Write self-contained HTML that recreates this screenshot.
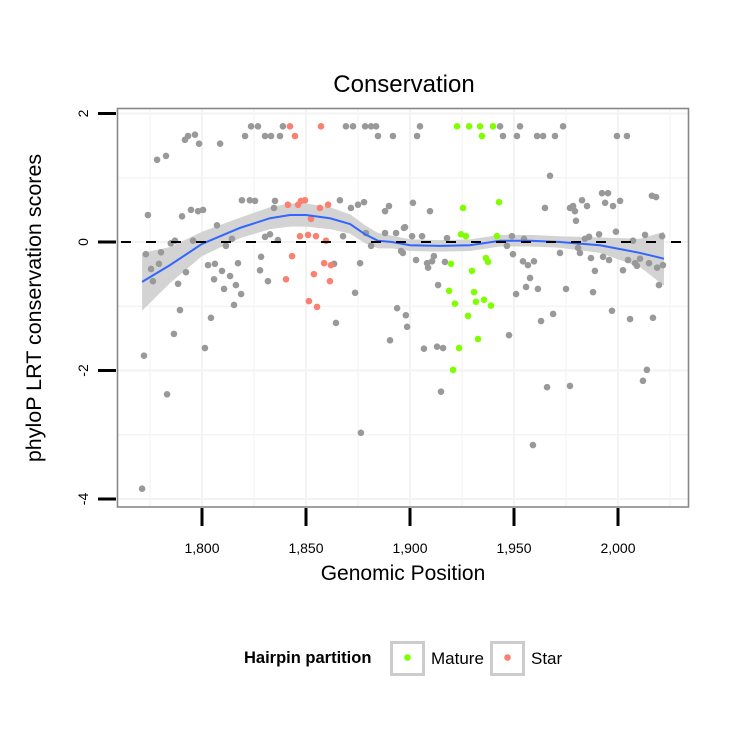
<!DOCTYPE html>
<html><head><meta charset="utf-8"><style>
html,body{margin:0;padding:0;background:#fff;}
svg{display:block;font-family:"Liberation Sans",sans-serif;}
</style></head><body>
<svg id="chart" width="750" height="750" viewBox="0 0 750 750">
<text x="404" y="92" text-anchor="middle" font-size="24" fill="#000">Conservation</text>
<rect x="117.5" y="108.5" width="571" height="398.5" fill="#fff"/>
<g id="grid"></g>
<g id="band"></g>
<g id="points"></g>
<g id="smooth"></g>
<g id="zero"></g>
<rect x="117.5" y="108.5" width="571" height="398.5" fill="none" stroke="#888" stroke-width="1.6"/>
<g id="axes"></g>
<text x="403" y="580" text-anchor="middle" font-size="21">Genomic Position</text>
<text transform="translate(41,308) rotate(-90)" text-anchor="middle" font-size="21.5">phyloP LRT conservation scores</text>
<g>
<text x="244" y="663" font-size="16.5" font-weight="bold">Hairpin partition</text>
<g>
<rect x="391.5" y="642.5" width="32" height="32" fill="#fff" stroke="#ccc" stroke-width="3"/>
<circle cx="407.5" cy="657.5" r="3.3" fill="#7fff00"/>
<text x="431" y="664" font-size="17">Mature</text>
</g>
<g>
<rect x="491.5" y="642.5" width="32" height="32" fill="#fff" stroke="#ccc" stroke-width="3"/>
<circle cx="507.5" cy="657.5" r="3.3" fill="#fa8072"/>
<text x="531" y="664" font-size="17">Star</text>
</g>
</g>
</svg>
<script>
const xTicks=[1800,1850,1900,1950,2000];
const xTickLabels=["1,800","1,850","1,900","1,950","2,000"];
const yTicks=[2,0,-2,-4];
const yTickLabels=["2","0","-2","-4"];
const grayX=[1823.6,1826.9,1838.9,1869.2,1872.6,1878.4,1881.3,1883.7,1904.8,1943.3,1952.9,1973.6,
1820.7,1830.3,1833.2,1837.5,1884.6,1891.8,1903.4,1944.7,1951.4,1961.1,1964,1969.7,1999.5,2004.3,
1778.4,1782.7,1791.8,1793.3,1796.6,1798.6,1808.7,
1967.3,1901.4,1909.6,1964.9,1976.9,1978.4,1979.3,1979.8,1982.7,1985.1,1992.3,1995.2,1993.8,1997.6,2001,2016.3,2018.3,
1819.2,1823,1825.5,1835.1,1794.7,1798.1,1800.5,1774,1790.4,1807.2,1866.3,1871.6,1875,1877.9,1888,1889.9,1834.6,
1785,1787,1795.7,1814.4,1811.5,1830.3,1832.7,1836.5,1867.8,1881.3,1878.8,1888,1893.3,1897.1,1895.7,
1773,1775.5,1779.3,1776.4,1780.3,1788.5,1792.3,1802.9,1806.2,1809.6,1805.8,1813.5,1817.3,1810.6,1816.3,1818.8,1815.4,
1828.4,1827.9,1831.7,1863.5,1876,1873.6,
1789.4,1804.3,1786.5,1801.4,1772.1,1783.2,1864.4,1876.4,1771.2,1893.8,1890.4,1898,1898.6,
1897.6,1901,1905.8,1917.8,1949,1954.8,1984.1,1986.1,1990.9,1999,2007.2,2013,2021.2,
1896.6,1902.9,1908.2,1910.6,1911.5,1908.7,1916.8,1946.6,1949.5,1954.3,1956.7,1959.6,1972.1,1980.8,1981.7,1987,1992.8,1995.7,2002.4,2004.8,2008.2,2010.6,2009.1,2014.9,2018.8,2021.6,1988.9,2019.7,1957.7,1955.8,1961.5,1951,1975,1988,1913.5,
1906.7,1913,1915.9,1914.9,1947.6,1963,1968.8,1997.1,2005.8,2016.8,2013.9,2012,1965.9,1976.9,1959.1];
const grayY=[1.8,1.8,1.8,1.8,1.8,1.8,1.8,1.8,1.8,1.8,1.8,1.8,
1.65,1.65,1.65,1.65,1.65,1.65,1.65,1.65,1.65,1.65,1.65,1.65,1.65,1.65,
1.28,1.34,1.59,1.65,1.67,1.53,1.53,
1.03,0.61,0.48,0.53,0.53,0.56,0.48,0.33,0.65,0.56,0.76,0.76,0.61,0.56,0.64,0.72,0.7,
0.65,0.65,0.64,0.64,0.5,0.48,0.5,0.42,0.4,0.26,0.65,0.53,0.58,0.62,0.48,0.56,0.53,
-0.02,0.02,0.02,0.05,-0.06,0.08,0.12,0.03,0.09,-0.06,0.14,0.14,0.14,0.22,-0.14,
-0.19,-0.42,-0.34,-0.61,-0.16,-0.65,-0.47,-0.36,-0.34,-0.45,-0.58,-0.53,-0.33,-0.73,-0.67,-0.81,-0.98,
-0.23,-0.44,-0.61,-0.34,-0.33,-0.79,
-1.06,-1.18,-1.43,-1.65,-1.77,-2.37,-1.26,-2.97,-3.84,-1.03,-1.53,-1.14,-1.32,
0.23,0.09,0.09,0.06,0.09,0.05,0.05,0.08,0.12,0.16,0.02,0.11,0.09,
-0.17,-0.28,-0.33,-0.3,-0.22,-0.4,-0.31,-0.06,-0.19,-0.3,-0.36,-0.3,-0.17,-0.09,-0.17,-0.25,-0.23,-0.28,-0.44,-0.28,-0.33,-0.26,-0.37,-0.33,-0.4,-0.36,-0.45,-0.67,-0.56,-0.7,-0.73,-0.81,-0.73,-0.78,-0.67,
-1.66,-1.63,-1.65,-2.33,-1.45,-1.23,-1.12,-1.07,-1.2,-1.18,-1.99,-2.16,-2.26,-2.24,-3.16];
const matureX=[1922.6,1928.4,1933.7,1939.9,1934.6,1925.5,1942.8,1924.5,1926.9,1941.8,1919.7,1936.5,1937.5,1929.8,1918.8,1930.8,1921.6,1931.7,1935.6,1938.9,1927.9,1932.7,1923.6,1920.7];
const matureY=[1.8,1.8,1.8,1.8,1.65,0.53,0.62,0.12,0.09,0.09,-0.34,-0.25,-0.31,-0.45,-0.76,-0.78,-0.96,-0.93,-0.9,-0.99,-1.15,-1.51,-1.65,-1.99];
const starX=[1842.3,1857.2,1844.7,1841.3,1846.2,1847.6,1849.5,1856.7,1860.6,1852.4,1847.1,1851,1854.8,1859.6,1843.3,1858.7,1862,1853.8,1840.4,1861.5,1851.4,1855.3];
const starY=[1.8,1.8,1.65,0.58,0.58,0.64,0.65,0.53,0.58,0.36,0.09,0.11,0.09,0.02,-0.22,-0.33,-0.36,-0.5,-0.58,-0.61,-0.92,-1.01];
const smoothX=[1771.2,1784.6,1800,1818.3,1832.7,1842.3,1850,1861.5,1871.2,1878.4,1884.6,1891.3,1900,1914.4,1928.8,1943.3,1957.7,1972.1,1991.3,2010.6,2022.1];
const smoothY=[-0.62,-0.36,-0.03,0.22,0.37,0.42,0.42,0.37,0.28,0.12,0.02,0,-0.05,-0.06,-0.05,0.02,0.02,0,-0.05,-0.17,-0.26];
const smoothSE=[0.45,0.28,0.19,0.16,0.17,0.18,0.18,0.17,0.15,0.14,0.12,0.10,0.09,0.09,0.09,0.09,0.09,0.09,0.12,0.22,0.42];

const NS='http://www.w3.org/2000/svg';
function X(v){return 202+(v-1800)*2.08;}
function Y(v){return 242-v*64.25;}
function mk(tag,attrs,parent){const e=document.createElementNS(NS,tag);for(const k in attrs)e.setAttribute(k,attrs[k]);parent.appendChild(e);return e;}
const grid=document.getElementById('grid');
for(let v=1775;v<=2025;v+=25){
  const l=mk('line',{x1:X(v),x2:X(v),y1:109,y2:506,stroke:'#f3f3f3','stroke-width':v%50===0?2:1.2},grid);
  
  
}
for(let v=-4;v<=2;v+=1){
  const l=mk('line',{x1:118,x2:688,y1:Y(v),y2:Y(v),stroke:'#f3f3f3','stroke-width':v%2===0?2:1.2},grid);
  
  
}
let up='',dn='';
smoothX.forEach((x,i)=>{up+=(i?'L':'M')+X(x)+','+Y(smoothY[i]+smoothSE[i]);});
for(let i=smoothX.length-1;i>=0;i--){dn+='L'+X(smoothX[i])+','+Y(smoothY[i]-smoothSE[i]);}
const band=mk('path',{d:up+dn+'Z',fill:'#d3d3d3'},document.getElementById('band'));


const pts=document.getElementById('points');
function drawPts(xs,ys,col,name){
  xs.forEach((x,i)=>{
    const c=mk('circle',{cx:X(x),cy:Y(ys[i]),r:3.3,fill:col},pts);
    
    
  });
}
drawPts(grayX,grayY,'#999999','point-other');
drawPts(matureX,matureY,'#7fff00','point-mature');
drawPts(starX,starY,'#fa8072','point-star');
let d='';
smoothX.forEach((x,i)=>{d+=(i?'L':'M')+X(x)+','+Y(smoothY[i]);});
const sl=mk('path',{d:d,fill:'none',stroke:'#3366ff','stroke-width':2},document.getElementById('smooth'));


const zl=mk('line',{x1:118,x2:688,y1:Y(0),y2:Y(0),stroke:'#000','stroke-width':2,'stroke-dasharray':'10,15','stroke-dashoffset':'-3'},document.getElementById('zero'));


const ax=document.getElementById('axes');
xTicks.forEach((v,i)=>{
  const t=mk('line',{x1:X(v),x2:X(v),y1:508,y2:526,stroke:'#000','stroke-width':3},ax);
  
  
  const tx=mk('text',{x:X(v),y:553,'text-anchor':'middle','font-size':14},ax);
  tx.textContent=xTickLabels[i];
  
  
});
yTicks.forEach((v,i)=>{
  const t=mk('line',{x1:98,x2:116,y1:Y(v),y2:Y(v),stroke:'#000','stroke-width':3},ax);
  
  
  const tx=mk('text',{transform:'translate(88,'+Y(v)+') rotate(-90)','text-anchor':'middle','font-size':14},ax);
  tx.textContent=yTickLabels[i];
  
  
});
</script>
</body></html>
